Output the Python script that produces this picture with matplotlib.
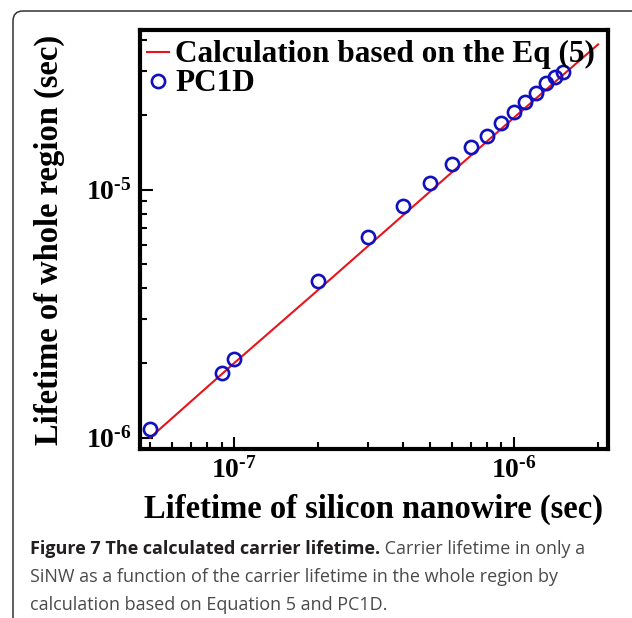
import math
import matplotlib
matplotlib.use('Agg')
import matplotlib.pyplot as plt
import matplotlib.ticker as mticker
from matplotlib.patches import FancyBboxPatch
from matplotlib.transforms import IdentityTransform

# ------------------------------------------------------------
# Data
# ------------------------------------------------------------

pc1d_x = [5e-8, 9e-8, 1e-7, 2e-7, 3e-7, 4e-7, 5e-7, 6e-7, 7e-7, 8e-7, 9e-7,
          1e-6, 1.1e-6, 1.2e-6, 1.3e-6, 1.4e-6, 1.5e-6]
pc1d_y = [1.08e-6, 1.83e-6, 2.08e-6, 4.30e-6, 6.46e-6, 8.6e-6, 1.067e-5, 1.27e-5,
          1.48e-5, 1.65e-5, 1.86e-5, 2.06e-5, 2.26e-5, 2.46e-5, 2.68e-5, 2.85e-5, 2.99e-5]

calc_x = [5e-8, 1e-7, 2e-7, 5e-7, 1e-6, 2e-6]
calc_y = [1.0e-6, 2.0e-6, 3.95e-6, 9.8e-6, 1.95e-5, 3.85e-5]

x_label = 'Lifetime of silicon nanowire (sec)'
y_label = 'Lifetime of whole region (sec)'
legend_labels = ['Calculation based on the Eq (5)', 'PC1D']
caption_bold = 'Figure 7 The calculated carrier lifetime.'
caption_lines = [' Carrier lifetime in only a',
                 'SiNW as a function of the carrier lifetime in the whole region by',
                 'calculation based on Equation 5 and PC1D.']

# ------------------------------------------------------------
# Plotting
# ------------------------------------------------------------

plt.rcParams['font.family'] = 'Liberation Serif'
plt.rcParams['font.weight'] = 'bold'
plt.rcParams['mathtext.fontset'] = 'custom'
plt.rcParams['mathtext.rm'] = 'Liberation Serif:bold'
plt.rcParams['mathtext.bf'] = 'Liberation Serif:bold'

fig = plt.figure(figsize=(6.32, 6.18), dpi=100)
ax = fig.add_axes([140 / 632, 1 - 449 / 618, 468 / 632, 419 / 618])

ax.plot(calc_x, calc_y, color='#e8141b', lw=1.5, label=legend_labels[0])
ax.plot(pc1d_x, pc1d_y, ls='none', marker='o', ms=9.5, mfc='none', mec='#1010c0',
        mew=1.9, label=legend_labels[1])

ax.set_xscale('log')
ax.set_yscale('log')
ax.set_xlim(4.6e-8, 2.17e-6)
ax.set_ylim(9.0e-7, 4.4e-5)

for s in ax.spines.values():
    s.set_linewidth(3)

ax.tick_params(which='both', direction='in', top=False, right=False, width=1.5)
ax.tick_params(which='major', length=9, labelsize=20, pad=6)
ax.tick_params(which='minor', length=5)
ax.xaxis.set_major_locator(mticker.LogLocator(base=10, numticks=10))
ax.yaxis.set_major_locator(mticker.LogLocator(base=10, numticks=10))
ax.xaxis.set_minor_locator(mticker.LogLocator(base=10, subs=range(2, 10), numticks=20))
ax.yaxis.set_minor_locator(mticker.LogLocator(base=10, subs=range(2, 10), numticks=20))
ax.xaxis.set_minor_formatter(mticker.NullFormatter())
ax.yaxis.set_minor_formatter(mticker.NullFormatter())
fmt = mticker.FuncFormatter(lambda v, p: r'$\mathbf{10^{\text{-}%d}}$' % abs(round(math.log10(v))))
ax.xaxis.set_major_formatter(fmt)
ax.yaxis.set_major_formatter(fmt)

ax.set_xlabel(x_label, fontsize=23.5, fontweight='bold', labelpad=7)
ax.set_ylabel(y_label, fontsize=23.5, fontweight='bold', labelpad=15)

leg = ax.legend(loc='upper left', bbox_to_anchor=(-0.011, 1.005), frameon=False,
                handlelength=0.7, handletextpad=0.2, labelspacing=0.0,
                borderaxespad=0, prop={'family': 'Liberation Serif', 'weight': 'bold', 'size': 22.5})

# caption box and text
box = FancyBboxPatch((13, -30), 640, 618 - 11 + 30, boxstyle='round,pad=0,rounding_size=10',
                     transform=IdentityTransform(), fill=False, ec='#333333', lw=1.1)
fig.patches.append(box)

cap_font = {'family': 'Open Sans', 'size': 13.0}
t = fig.text(30 / 632, 1 - 554 / 618, caption_bold, color='#231f20', fontweight='bold', **cap_font)
fig.canvas.draw()
bb = t.get_window_extent()
fig.text(bb.x1 / 632, 1 - 554 / 618, caption_lines[0], color='#4a4a4a', fontweight='normal', **cap_font)
fig.text(30 / 632, 1 - 582 / 618, caption_lines[1], color='#4a4a4a', fontweight='normal', **cap_font)
fig.text(30 / 632, 1 - 610 / 618, caption_lines[2], color='#4a4a4a', fontweight='normal', **cap_font)

plt.savefig('out.png', dpi=100)
plt.close()
